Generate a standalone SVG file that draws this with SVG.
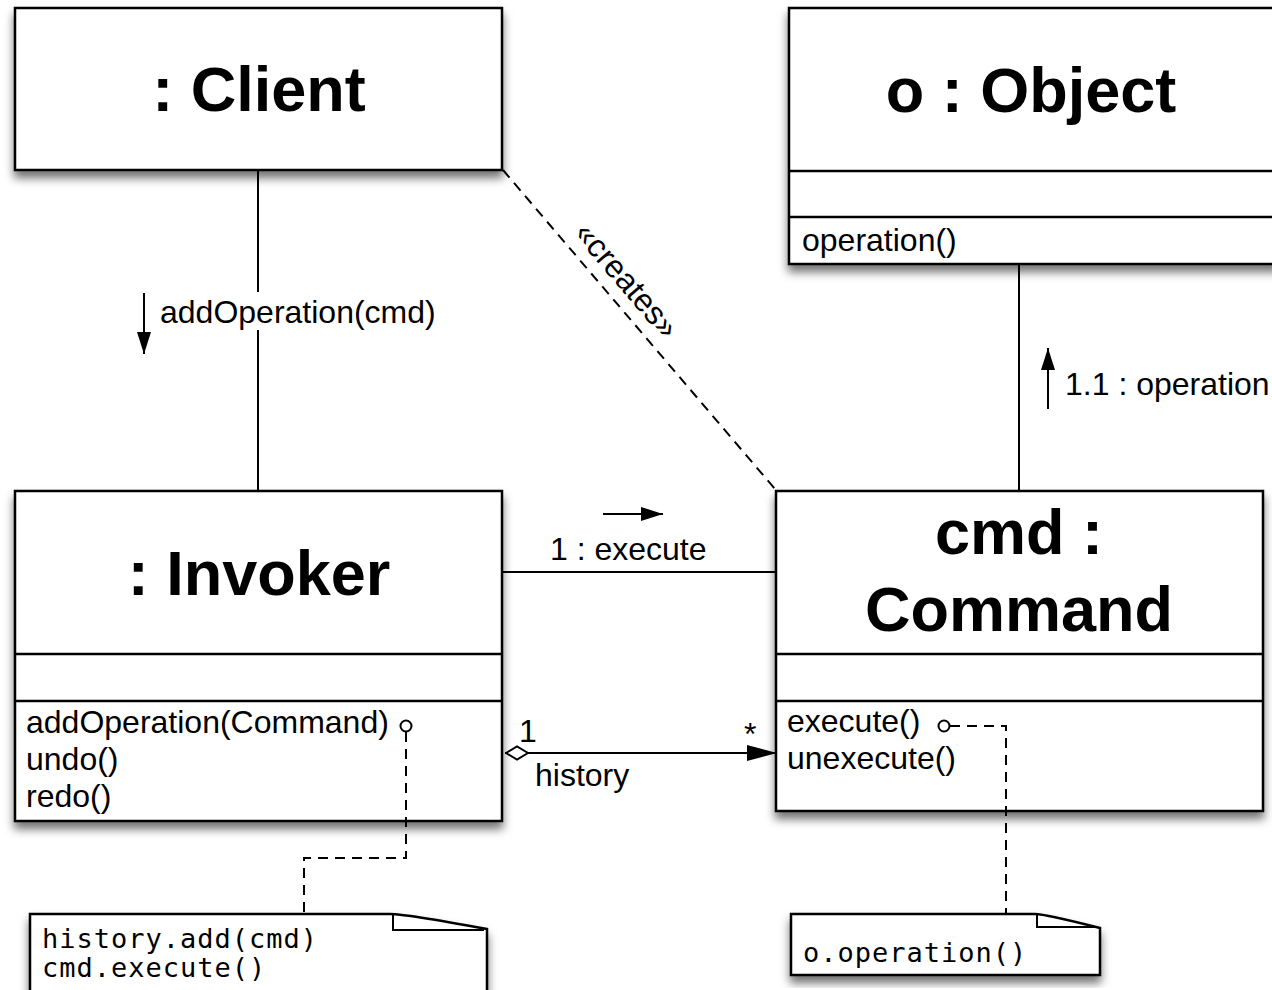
<svg xmlns="http://www.w3.org/2000/svg" width="1272" height="990" viewBox="0 0 1272 990">
<defs>
<filter id="sh" x="-10%" y="-10%" width="120%" height="130%">
<feDropShadow dx="0" dy="7" stdDeviation="5" flood-color="#000" flood-opacity="0.55"/>
</filter>
<marker id="tri" viewBox="0 0 30 16" refX="30" refY="8" markerWidth="30" markerHeight="16" markerUnits="userSpaceOnUse" orient="auto">
<path d="M0,0 L30,8 L0,16 Z" fill="#000"/>
</marker>
<marker id="dia" viewBox="0 0 24 16" refX="0" refY="8" markerWidth="24" markerHeight="16" markerUnits="userSpaceOnUse" orient="auto">
<path d="M1,8 L12,1.5 L23,8 L12,14.5 Z" fill="#fff" stroke="#000" stroke-width="2"/>
</marker>
<marker id="small" viewBox="0 0 22 16" refX="22" refY="8" markerWidth="22" markerHeight="16" markerUnits="userSpaceOnUse" orient="auto">
<path d="M0,1 L22,8 L0,15 Z" fill="#000"/>
</marker>
</defs>
<style>
.box{fill:#fff;stroke:#000;stroke-width:2.5}
.sep{stroke:#000;stroke-width:2.5;fill:none}
.title{font-family:"Liberation Sans",Arial,Helvetica,sans-serif;font-weight:bold;font-size:63px;text-anchor:middle;fill:#000}
.t{font-family:"Liberation Sans",Arial,Helvetica,sans-serif;font-size:32px;fill:#000}
.mono{font-family:"DejaVu Sans Mono","Liberation Mono",monospace;font-size:27px;letter-spacing:1px;fill:#000}
.line{stroke:#000;stroke-width:2;fill:none}
.dash{stroke:#000;stroke-width:2;fill:none;stroke-dasharray:10 7}
.pin{fill:#fff;stroke:#000;stroke-width:2}
</style>
<rect width="1272" height="990" fill="#fff"/>

<g id="client">
<rect class="box" x="15" y="8" width="487" height="162" filter="url(#sh)"/>
<text class="title" x="259" y="111">: Client</text>
</g>

<g id="object">
<rect class="box" x="789" y="8" width="490" height="256" filter="url(#sh)"/>
<line class="sep" x1="789" y1="171" x2="1279" y2="171"/>
<line class="sep" x1="789" y1="217" x2="1279" y2="217"/>
<text class="title" x="1031" y="112">o : Object</text>
<text class="t" x="802" y="251">operation()</text>
</g>

<g id="invoker">
<rect class="box" x="15" y="491" width="487" height="330" filter="url(#sh)"/>
<line class="sep" x1="15" y1="654" x2="502" y2="654"/>
<line class="sep" x1="15" y1="701" x2="502" y2="701"/>
<text class="title" x="259" y="595">: Invoker</text>
<text class="t" x="26" y="733">addOperation(Command)</text>
<text class="t" x="26" y="770">undo()</text>
<text class="t" x="26" y="807">redo()</text>
</g>

<g id="command">
<rect class="box" x="776" y="491" width="487" height="320" filter="url(#sh)"/>
<line class="sep" x1="776" y1="654" x2="1263" y2="654"/>
<line class="sep" x1="776" y1="701" x2="1263" y2="701"/>
<text class="title" x="1019" y="554">cmd :</text>
<text class="title" x="1019" y="631">Command</text>
<text class="t" x="787" y="732">execute()</text>
<text class="t" x="787" y="769">unexecute()</text>
</g>

<g id="note1">
<path class="box" d="M30,914 H390 Q405,914 487,929 V1000 H30 Z" filter="url(#sh)"/>
<path class="line" d="M393,914 V930 H484"/>
<text class="mono" x="42" y="948">history.add(cmd)</text>
<text class="mono" x="42" y="977">cmd.execute()</text>
</g>

<g id="note2">
<path class="box" d="M791,914 H1035 Q1045,914 1100,928 V975 H791 Z" filter="url(#sh)"/>
<path class="line" d="M1037,914 V927 H1097"/>
<text class="mono" x="803" y="962">o.operation()</text>
</g>

<g id="connectors">
<line class="line" x1="258" y1="171" x2="258" y2="490"/>
<rect x="156" y="292" width="284" height="38" fill="#fff"/>
<line class="dash" x1="503" y1="170" x2="775" y2="489"/>
<line class="line" x1="1019" y1="265" x2="1019" y2="490"/>
<line class="line" x1="503" y1="572" x2="775" y2="572"/>
<line class="line" x1="505" y1="753" x2="777" y2="753" marker-start="url(#dia)" marker-end="url(#tri)"/>
<path class="dash" d="M406,732 V858 H304 V913"/>
<circle class="pin" cx="406" cy="726" r="5.5"/>
<path class="dash" d="M950,726 H1006 V913"/>
<circle class="pin" cx="944" cy="726" r="5.5"/>
</g>

<g id="labels">
<text class="t" x="160" y="323">addOperation(cmd)</text>
<line class="line" x1="144" y1="293" x2="144" y2="354" marker-end="url(#small)"/>
<text class="t" transform="translate(627,280) rotate(49.5)" text-anchor="middle" y="11" font-size="31">«creates»</text>
<text class="t" x="1065" y="395" font-size="31">1.1 : operation</text>
<line class="line" x1="1048" y1="409" x2="1048" y2="348" marker-end="url(#small)"/>
<text class="t" x="550" y="560" font-size="31">1 : execute</text>
<line class="line" x1="603" y1="514" x2="663" y2="514" marker-end="url(#small)"/>
<text class="t" x="519" y="742" font-size="30">1</text>
<text class="t" x="744" y="745" font-size="24">*</text>
<text class="t" x="535" y="786" font-size="31">history</text>
</g>
</svg>
